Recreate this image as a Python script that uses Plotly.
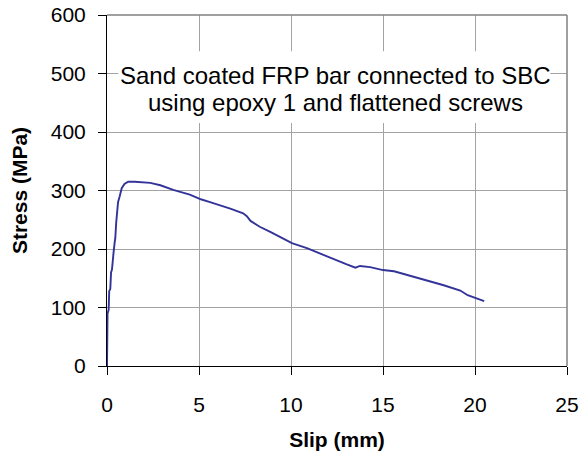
import plotly.graph_objects as go

slip_mm = [0, 0, 0.03, 0.09, 0.12, 0.18, 0.22, 0.27, 0.32, 0.36, 0.42, 0.45, 0.5, 0.55,
           0.6, 0.69, 0.8, 0.95, 1.15, 1.5, 1.9, 2.35, 2.9, 3.6, 4.5, 5.1, 5.6, 6.15,
           6.7, 7.4, 7.6, 7.8, 8.3, 8.9, 9.4, 10.05, 10.9, 11.6, 12.3, 13.0, 13.5,
           13.75, 14.3, 15.0, 15.6, 16.5, 17.4, 18.3, 19.2, 19.6, 20.5]
stress_mpa = [0, 60, 90, 96, 128, 132, 160, 165, 190, 195, 212, 218, 245, 270,
              280, 290, 304, 311, 315, 315, 314, 313, 309, 301, 293, 285, 280, 275,
              269, 261, 256, 248, 238, 229, 221, 210, 201, 192, 182, 174, 168,
              171, 169, 164, 162, 154, 147, 138, 129, 121, 111]

x_ticks = [0, 5, 10, 15, 20, 25]
y_ticks = [0, 100, 200, 300, 400, 500, 600]
note_lines = ["Sand coated FRP bar connected to SBC", "using epoxy 1 and flattened screws"]

FONT = "Liberation Sans, Arial, sans-serif"

fig = go.Figure()
fig.add_trace(go.Scatter(x=slip_mm, y=stress_mpa, mode="lines",
                         line=dict(color="#333399", width=1.9), showlegend=False))

axis_common = dict(
    showline=True, linecolor="black", linewidth=1,
    ticks="outside", ticklen=8, tickcolor="black", tickwidth=1,
    showgrid=True, gridcolor="#a3a3a3", gridwidth=1,
    zeroline=False, tickfont=dict(family=FONT, size=21, color="black"),
    ticklabeloverflow="allow",
)

fig.update_xaxes(range=[0, 25], tickvals=x_ticks, ticktext=[str(v) for v in x_ticks],
                 ticklabelstandoff=12,
                 title=dict(text="<b>Slip (mm)</b>", font=dict(family=FONT, size=21, color="black"),
                            standoff=17),
                 **axis_common)
fig.update_yaxes(range=[0, 600], tickvals=y_ticks, ticktext=[str(v) for v in y_ticks],
                 ticklabelstandoff=8,
                 title=dict(text="<b>Stress (MPa)</b>", font=dict(family=FONT, size=21, color="black"),
                            standoff=17),
                 **axis_common)

# top and right frame lines
fig.add_shape(type="line", xref="paper", yref="paper", x0=0, x1=1, y0=1, y1=1,
              line=dict(color="#808080", width=1.5))
fig.add_shape(type="line", xref="paper", yref="paper", x0=1, x1=1, y0=0, y1=1,
              line=dict(color="#808080", width=1.5))

# white box behind the note
fig.add_shape(type="rect", xref="paper", yref="paper", x0=0.0246, x1=0.9637, y0=0.692, y1=0.897,
              fillcolor="white", line=dict(width=0), layer="above")

for txt, yp in zip(note_lines, [0.829, 0.752]):
    fig.add_annotation(text=txt, xref="paper", yref="paper", x=0.496, y=yp,
                       xanchor="center", yanchor="middle", showarrow=False,
                       font=dict(family=FONT, size=24, color="black"))

fig.update_layout(
    width=581, height=459,
    margin=dict(l=107, r=14, t=15, b=93, autoexpand=False),
    paper_bgcolor="white", plot_bgcolor="white",
    font=dict(family=FONT, color="black"),
)

# remove the default page margin so the 581x459 figure fills the window exactly
fig.write_html(
    "out.html",
    config={"displayModeBar": False},
    post_script="document.body.style.margin='0';document.body.style.overflow='hidden';",
)
